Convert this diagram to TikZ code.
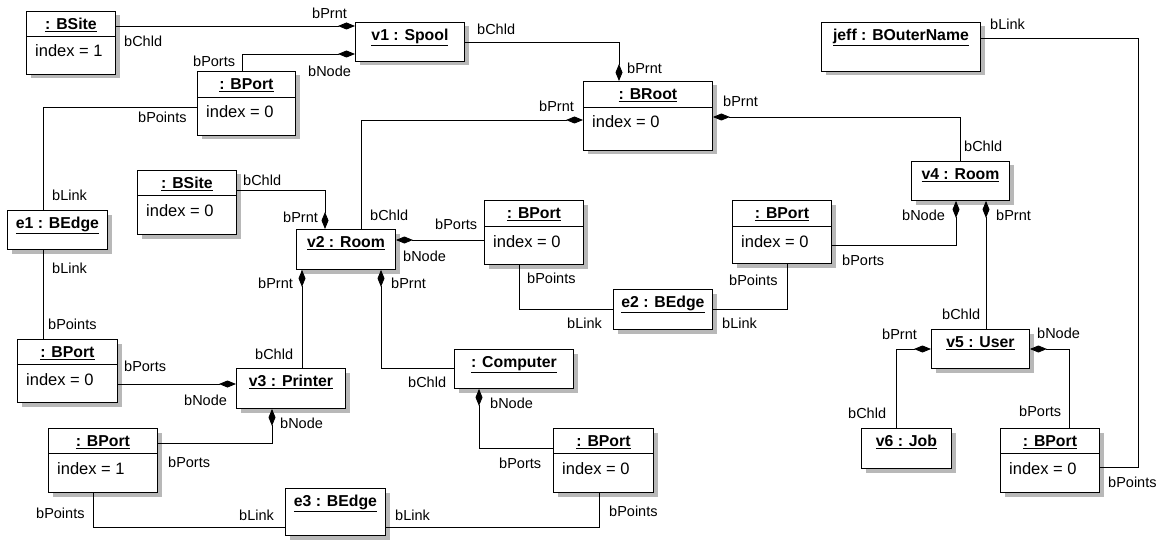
\documentclass[tikz,border=0pt]{standalone}
\usepackage{fontspec}
\setmainfont{Liberation Sans}
\usetikzlibrary{arrows.meta,calc}
\newcommand\objbox[5]{%
  \fill[boxshadow] ({#2+4.5},{#3+4.5}) rectangle ({#2+#4+4.5},{#3+#5+4.5});
  \node[obj, minimum width=#4pt, minimum height=#5pt] (#1) at (#2,#3) {};}
\begin{document}
\begin{tikzpicture}[x=1pt,y=-1pt,
  obj/.style={draw=black, line width=0.9pt, fill=white, inner sep=0pt, anchor=north west},
  boxshadow/.style={fill=black!28},
  hdr/.style={font=\fontsize{15.8}{18}\selectfont\bfseries, inner sep=0pt, anchor=base},
  att/.style={font=\fontsize{16.5}{19}\selectfont, inner sep=0pt, anchor=base west},
  lab/.style={font=\fontsize{14.5}{17}\selectfont, inner sep=0pt, anchor=west},
  con/.style={line width=0.9pt},
  comp/.style={con, {Diamond[length=17pt,width=7pt]}-}]
\useasboundingbox (0,0) rectangle (1158,540);

% ---------- objects (shadow + box) ----------
\objbox{bsA}{26}{11}{89}{63}
\objbox{v1}{355}{22}{109}{39}
\objbox{bpA}{197}{71}{98}{64}
\objbox{broot}{583}{81}{129}{69}
\objbox{jeff}{821}{22}{159}{49}
\objbox{e1}{7}{210}{100}{39}
\objbox{bsB}{137}{170}{99}{64}
\objbox{v2}{296}{229}{99}{40}
\objbox{bpB}{484}{200}{99}{64}
\objbox{bpC}{732}{200}{99}{63}
\objbox{v4}{911}{161}{98}{39}
\objbox{e2}{613}{289}{99}{40}
\objbox{bpD}{17}{339}{100}{63}
\objbox{v3}{236}{368}{109}{40}
\objbox{cmp}{454}{349}{119}{39}
\objbox{v5}{931}{329}{98}{39}
\objbox{bpE}{48}{428}{109}{64}
\objbox{e3}{285}{488}{100}{47}
\objbox{bpF}{553}{428}{100}{64}
\objbox{v6}{861}{428}{90}{40}
\objbox{bpG}{1000}{428}{99}{64}

% separators
\foreach \n/\s in {bsA/25,bpA/26,broot/26,bsB/25,bpB/26,bpC/26,bpD/25,bpE/25,bpF/25,bpG/25}
  \draw[con] ($(\n.north west)+(0,\s)$) -- ($(\n.north east)+(0,\s)$);

% headers
\node[hdr] (hbsA) at ($(bsA.north)+(0,18.5)$) {\underline{: BSite}};
\node[hdr] (hv1) at ($(v1.north)+(0,18.5)$) {\underline{v1 : Spool}};
\node[hdr] (hbpA) at ($(bpA.north)+(0,18.5)$) {\underline{: BPort}};
\node[hdr] (hbroot) at ($(broot.north)+(0,18.5)$) {\underline{: BRoot}};
\node[hdr] (hjeff) at ($(jeff.north)+(0,18.5)$) {\underline{jeff : BOuterName}};
\node[hdr] (he1) at ($(e1.north)+(0,18.5)$) {\underline{e1 : BEdge}};
\node[hdr] (hbsB) at ($(bsB.north)+(0,18.5)$) {\underline{: BSite}};
\node[hdr] (hv2) at ($(v2.north)+(0,18.5)$) {\underline{v2 : Room}};
\node[hdr] (hbpB) at ($(bpB.north)+(0,18.5)$) {\underline{: BPort}};
\node[hdr] (hbpC) at ($(bpC.north)+(0,18.5)$) {\underline{: BPort}};
\node[hdr] (hv4) at ($(v4.north)+(0,18.5)$) {\underline{v4 : Room}};
\node[hdr] (he2) at ($(e2.north)+(0,18.5)$) {\underline{e2 : BEdge}};
\node[hdr] (hbpD) at ($(bpD.north)+(0,18.5)$) {\underline{: BPort}};
\node[hdr] (hv3) at ($(v3.north)+(0,18.5)$) {\underline{v3 : Printer}};
\node[hdr] (hcmp) at ($(cmp.north)+(0,18.5)$) {\underline{: Computer}};
\node[hdr] (hv5) at ($(v5.north)+(0,18.5)$) {\underline{v5 : User}};
\node[hdr] (hbpE) at ($(bpE.north)+(0,18.5)$) {\underline{: BPort}};
\node[hdr] (he3) at ($(e3.north)+(0,18.5)$) {\underline{e3 : BEdge}};
\node[hdr] (hbpF) at ($(bpF.north)+(0,18.5)$) {\underline{: BPort}};
\node[hdr] (hv6) at ($(v6.north)+(0,18.5)$) {\underline{v6 : Job}};
\node[hdr] (hbpG) at ($(bpG.north)+(0,18.5)$) {\underline{: BPort}};

% attributes
\node[att] (absA) at ($(bsA.north west)+(9,46)$) {index = 1};
\node[att] (abpA) at ($(bpA.north west)+(9,47)$) {index = 0};
\node[att] (abroot) at ($(broot.north west)+(9,47)$) {index = 0};
\node[att] (absB) at ($(bsB.north west)+(9,46)$) {index = 0};
\node[att] (abpB) at ($(bpB.north west)+(9,47)$) {index = 0};
\node[att] (abpC) at ($(bpC.north west)+(9,47)$) {index = 0};
\node[att] (abpD) at ($(bpD.north west)+(9,46)$) {index = 0};
\node[att] (abpE) at ($(bpE.north west)+(9,46)$) {index = 1};
\node[att] (abpF) at ($(bpF.north west)+(9,46)$) {index = 0};
\node[att] (abpG) at ($(bpG.north west)+(9,46)$) {index = 0};

% ---------- connectors ----------
\draw[comp] (v1.west |- 0,26) -- (bsA.east |- 0,26);
\draw[comp] (v1.west |- 0,54) -- (242,54) -- (bpA.north -| 242,0);
\draw[comp] (broot.north -| 619,0) -- (619,42) -- (v1.east |- 0,42);
\draw[comp] (broot.west |- 0,120) -- (361,120) -- (v2.north -| 361,0);
\draw[comp] (broot.east |- 0,117) -- (960,117) -- (v4.north -| 960,0);
\draw[con] (jeff.east |- 0,38) -- (1138,38) -- (1138,467) -- (bpG.east |- 0,467);
\draw[con] (bpA.west |- 0,107) -- (43,107) -- (e1.north -| 43,0);
\draw[con] (e1.south -| 43,0) -- (bpD.north -| 43,0);
\draw[comp] (v2.north -| 325,0) -- (325,190) -- (bsB.east |- 0,190);
\draw[comp] (v2.east |- 0,240) -- (bpB.west |- 0,240);
\draw[con] (bpB.south -| 519,0) -- (519,309) -- (e2.west |- 0,309);
\draw[con] (e2.east |- 0,309) -- (787,309) -- (bpC.south -| 787,0);
\draw[comp] (v4.south -| 956,0) -- (956,245) -- (bpC.east |- 0,245);
\draw[comp] (v4.south -| 986,0) -- (v5.north -| 986,0);
\draw[comp] (v5.west |- 0,349) -- (896,349) -- (v6.north -| 896,0);
\draw[comp] (v5.east |- 0,349) -- (1069,349) -- (bpG.north -| 1069,0);
\draw[comp] (v2.south -| 302,0) -- (v3.north -| 302,0);
\draw[comp] (v2.south -| 381,0) -- (381,368) -- (cmp.west |- 0,368);
\draw[comp] (v3.west |- 0,384) -- (bpD.east |- 0,384);
\draw[comp] (v3.south -| 272,0) -- (272,443) -- (bpE.east |- 0,443);
\draw[con] (bpE.south -| 93,0) -- (93,527) -- (e3.west |- 0,527);
\draw[comp] (cmp.south -| 479,0) -- (479,448) -- (bpF.west |- 0,448);
\draw[con] (bpF.south -| 599,0) -- (599,527) -- (e3.east |- 0,527);

% ---------- role labels ----------
\node[lab] (l01) at (312,13) {bPrnt};
\node[lab] (l02) at (124,41) {bChld};
\node[lab] (l03) at (308,71) {bNode};
\node[lab] (l04) at (193,61) {bPorts};
\node[lab] (l05) at (627,68) {bPrnt};
\node[lab] (l06) at (477,29) {bChld};
\node[lab] (l07) at (539,106) {bPrnt};
\node[lab] (l08) at (370,215) {bChld};
\node[lab] (l09) at (723,101) {bPrnt};
\node[lab] (l10) at (964,146) {bChld};
\node[lab] (l11) at (990,24) {bLink};
\node[lab] (l12) at (1108,482) {bPoints};
\node[lab] (l13) at (138,117) {bPoints};
\node[lab] (l14) at (52,195) {bLink};
\node[lab] (l15) at (52,268) {bLink};
\node[lab] (l16) at (48,324) {bPoints};
\node[lab] (l17) at (283,217) {bPrnt};
\node[lab] (l18) at (243,180) {bChld};
\node[lab] (l19) at (403,256) {bNode};
\node[lab] (l20) at (435,224) {bPorts};
\node[lab] (l21) at (527,278) {bPoints};
\node[lab] (l22) at (567,323) {bLink};
\node[lab] (l23) at (722,323) {bLink};
\node[lab] (l24) at (729,280) {bPoints};
\node[lab] (l25) at (902,215) {bNode};
\node[lab] (l26) at (842,260) {bPorts};
\node[lab] (l27) at (996,215) {bPrnt};
\node[lab] (l28) at (942,314) {bChld};
\node[lab] (l29) at (882,334) {bPrnt};
\node[lab] (l30) at (848,413) {bChld};
\node[lab] (l31) at (1037,333) {bNode};
\node[lab] (l32) at (1019,411) {bPorts};
\node[lab] (l33) at (258,283) {bPrnt};
\node[lab] (l34) at (255,354) {bChld};
\node[lab] (l35) at (391,283) {bPrnt};
\node[lab] (l36) at (408,382) {bChld};
\node[lab] (l37) at (184,400) {bNode};
\node[lab] (l38) at (124,366) {bPorts};
\node[lab] (l39) at (280,423) {bNode};
\node[lab] (l40) at (168,462) {bPorts};
\node[lab] (l41) at (36,513) {bPoints};
\node[lab] (l42) at (239,515) {bLink};
\node[lab] (l43) at (490,403) {bNode};
\node[lab] (l44) at (499,463) {bPorts};
\node[lab] (l45) at (609,511) {bPoints};
\node[lab] (l46) at (395,515) {bLink};
\end{tikzpicture}
\end{document}
